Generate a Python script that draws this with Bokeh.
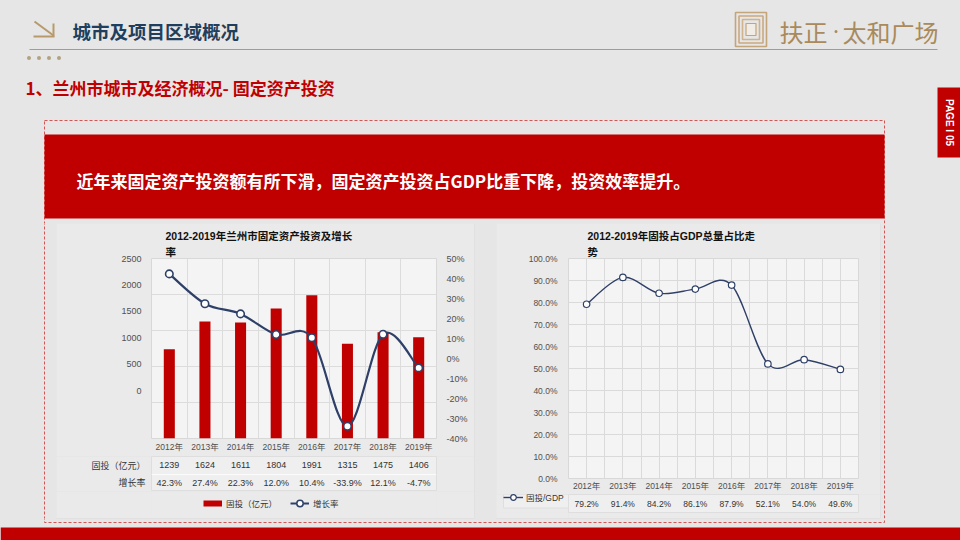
import math
from bokeh.plotting import figure
from bokeh.layouts import row, column
from bokeh.models import (Range1d, FactorRange, LinearAxis, Grid, FixedTicker,
                          PrintfTickFormatter, ColumnDataSource, Legend, LegendItem)
from bokeh.core.properties import value
from bokeh.embed import file_html
from bokeh.resources import INLINE

# ---------------- data ----------------
years = ["2012年", "2013年", "2014年", "2015年", "2016年", "2017年", "2018年", "2019年"]
investment = [1239, 1624, 1611, 1804, 1991, 1315, 1475, 1406]          # 固投（亿元）
growth = [42.3, 27.4, 22.3, 12.0, 10.4, -33.9, 12.1, -4.7]             # 增长率 %
gdp_share = [79.2, 91.4, 84.2, 86.1, 87.9, 52.1, 54.0, 49.6]           # 固投/GDP %
left_ticks = [0, 500, 1000, 1500, 2000, 2500]
pct_ticks = [-40, -30, -20, -10, 0, 10, 20, 30, 40, 50]
share_ticks = [0, 10, 20, 30, 40, 50, 60, 70, 80, 90, 100]
row_inv, row_growth, row_share = "固投（亿元）", "增长率", "固投/GDP"

BG = "#e6e6e6"
CARD = "#eaeaea"
RED = "#c00000"
GOLD = "#b8996b"
NAVY = "#2f4068"
AX = "#505050"
LAT = "Liberation Sans, Noto Sans CJK SC"
CJK = "Noto Sans CJK SC"

CY0, CY1 = 223, 518          # card band (slide px)


def smooth_segments(n, ys, t=1.0 / 6.0):
    """Bezier segments (Catmull-Rom style smoothing) through points at category centres."""
    xs = [i + 0.5 for i in range(n)]
    d = dict(x0=[], y0=[], x1=[], y1=[], cx0=[], cy0=[], cx1=[], cy1=[])
    for i in range(n - 1):
        xa, ya, xb, yb = xs[i], ys[i], xs[i + 1], ys[i + 1]
        xp, yp = (xs[i - 1], ys[i - 1]) if i > 0 else (xa, ya)
        xn, yn = (xs[i + 2], ys[i + 2]) if i + 2 < n else (xb, yb)
        d["x0"].append(xa); d["y0"].append(ya); d["x1"].append(xb); d["y1"].append(yb)
        d["cx0"].append(xa + (xb - xp) * t); d["cy0"].append(ya + (yb - yp) * t)
        d["cx1"].append(xb - (xn - xa) * t); d["cy1"].append(yb - (yn - ya) * t)
    return ColumnDataSource(d)


def tile(x0, x1, y0, y1, fill=BG, deco=True):
    f = figure(width=x1 - x0, height=y1 - y0, x_range=Range1d(x0, x1), y_range=Range1d(y1, y0),
               output_backend="svg", toolbar_location=None, min_border=0, title=None,
               x_axis_type=None, y_axis_type=None, outline_line_color=None,
               background_fill_color=fill, border_fill_color=fill)
    if deco:
        f.quad(left=[56, 496], right=[474, 880], top=[223, 223], bottom=[518, 518],
               fill_color=CARD, line_color="#dcdcdc", line_width=1)
        f.quad(left=[44], right=[884], top=[120], bottom=[522], fill_alpha=0,
               line_color="#d45555", line_width=1, line_dash="3 2")
        f.quad(left=[0], right=[960], top=[527], bottom=[540], fill_color=RED, line_color=None)
    return f


def style_axis(a, size, standoff, font=LAT, color=AX):
    a.axis_line_color = None
    a.major_tick_line_color = None
    a.minor_tick_line_color = None
    a.major_tick_out = 0
    a.major_tick_in = 0
    a.major_label_standoff = standoff
    a.major_label_text_font = font
    a.major_label_text_font_size = "%gpx" % size
    a.major_label_text_color = color


def style_title(f, text, offset):
    f.title.text = text
    f.title.align = "left"
    f.title.offset = offset
    f.title.standoff = 0
    f.title.text_font = LAT
    f.title.text_font_style = "bold"
    f.title.text_font_size = "10.5px"
    f.title.text_color = "#111111"
    f.title.text_line_height = 1.4


def make_legend(items, loc, **kw):
    opts = dict(location=loc, margin=0, label_standoff=4, label_text_font=CJK,
                label_text_font_size="8.5px", label_text_color="#333333",
                background_fill_alpha=0, border_line_alpha=0)
    opts.update(kw)
    return Legend(items=items, **opts)


# ---------------- top tile: header + banner ----------------
T = tile(0, 960, 0, CY0)
T.segment(x0=[34, 33, 53], y0=[21, 36, 23], x1=[53, 54, 53], y1=[35, 36, 36],
          line_color=GOLD, line_width=2)
T.text(x=[72], y=[30], text=["城市及项目区域概况"], text_font=value(CJK),
       text_font_style="bold", text_font_size="18.5px", text_color="#1f3f5c",
       text_baseline="middle")
T.segment(x0=[29], y0=[49], x1=[937], y1=[49], line_color=GOLD, line_width=1)
T.scatter(x=[28.5, 38.5, 48.5, 58.5], y=[57.5] * 4, size=4, color="#b3a27f", line_color=None)
T.text(x=[25], y=[87], text=["1、兰州市城市及经济概况- 固定资产投资"], text_font=value(CJK),
       text_font_style="bold", text_font_size="17px", text_color=RED, text_baseline="middle")
for k, c in enumerate(["#c4a57a", "#caa982", "#d0b28c"]):
    d = 3.5 * k
    T.quad(left=[735 + d], right=[766 - d], top=[12 + d], bottom=[46 - d],
           fill_alpha=0, line_color=c, line_width=1.6)
T.quad(left=[745.5], right=[755.5], top=[23], bottom=[35], fill_color="#f1ede6",
       line_color="#c4a57a", line_width=1.2)
T.text(x=[779, 842], y=[31, 31], text=["扶正", "太和广场"], text_font=value(CJK),
       text_font_size="24px", text_color="#a98a5c", text_baseline="middle")
T.scatter(x=[835.5], y=[31], size=3, color="#a98a5c", line_color=None)
T.quad(left=[937], right=[960], top=[87], bottom=[157], fill_color=RED, line_color=None)
T.text(x=[948.5], y=[122], text=["PAGE I 05"], angle=-math.pi / 2, text_font=value(LAT),
       text_font_style="bold", text_font_size="10px", text_color="white",
       text_align="center", text_baseline="middle")
T.quad(left=[44], right=[884], top=[134], bottom=[218], fill_color=RED, line_color=None)
T.text(x=[76], y=[180],
       text=["近年来固定资产投资额有所下滑，固定资产投资占GDP比重下降，投资效率提升。"],
       text_font=value(CJK), text_font_style="bold", text_font_size="17px",
       text_color="white", text_baseline="middle")

S1 = tile(0, 56, CY0, CY1)
S2 = tile(474, 496, CY0, CY1)
S3 = tile(880, 960, CY0, CY1)
B = tile(0, 960, CY1, 540)

# ---------------- left card: chart ----------------
LX0, LX1 = 56, 474
LF = dict(l=151, t=258, r=436, b=438)
LCH_B, LTAB_B = 456, 491
LAB_ZERO_Y = 390   # where the (offset) left-axis "0" label sits in the original
lab_start = -2500.0 * (LF["b"] - LAB_ZERO_Y) / (LAB_ZERO_Y - LF["t"])
xr_left = FactorRange(*years)

src = ColumnDataSource(dict(year=years, inv=investment, growth=growth))

L = figure(width=LX1 - LX0, height=LCH_B - CY0, x_range=xr_left, y_range=Range1d(0, 2500),
           output_backend="svg", toolbar_location=None, y_axis_type=None,
           min_border_left=LF["l"] - LX0, min_border_right=LX1 - LF["r"],
           min_border_top=LF["t"] - CY0, min_border_bottom=LCH_B - LF["b"],
           border_fill_color=CARD, background_fill_color="#f4f4f4",
           outline_line_color="#d8d8d8")
style_title(L, "2012-2019年兰州市固定资产投资及增长\n率", 165 - LF["l"])
L.extra_y_ranges = {"lab": Range1d(lab_start, 2500), "pct": Range1d(-40, 50)}
L.xgrid.visible = False
L.add_layout(Grid(dimension=1, ticker=FixedTicker(ticks=left_ticks), grid_line_color="#dcdcdc"))
L.add_layout(Grid(dimension=0, ticker=FixedTicker(ticks=list(range(len(years) + 1))),
                  grid_line_color="#dcdcdc"))
style_axis(L.xaxis[0], 8.5, 3)
la = LinearAxis(y_range_name="lab", ticker=FixedTicker(ticks=left_ticks))
style_axis(la, 9, 10)
L.add_layout(la, "left")
ra = LinearAxis(y_range_name="pct", ticker=FixedTicker(ticks=pct_ticks),
                formatter=PrintfTickFormatter(format="%d%%"))
style_axis(ra, 9, 10)
L.add_layout(ra, "right")

L.vbar(x="year", top="inv", width=0.31, source=src, fill_color=RED, line_color=None)
L.bezier(source=smooth_segments(len(years), growth), x0="x0", y0="y0", x1="x1",
         y1="y1", cx0="cx0", cy0="cy0", cx1="cx1", cy1="cy1",
         y_range_name="pct", line_color=NAVY, line_width=2.2)
L.scatter(x="year", y="growth", source=src, y_range_name="pct", size=7.5,
          fill_color="white", line_color=NAVY, line_width=1.6)

# ---------------- left card: data table ----------------
tab_src = ColumnDataSource(dict(
    year=years + years,
    row=[row_inv] * len(years) + [row_growth] * len(years),
    txt=[str(v) for v in investment] + ["%.1f%%" % g for g in growth]))

LT = figure(width=LX1 - LX0, height=LTAB_B - LCH_B, x_range=xr_left,
            y_range=FactorRange(row_growth, row_inv),
            output_backend="svg", toolbar_location=None, x_axis_location=None, title=None,
            min_border_left=LF["l"] - LX0, min_border_right=LX1 - LF["r"],
            min_border_top=0, min_border_bottom=0,
            border_fill_color=CARD, background_fill_color="#efefef",
            outline_line_color="#dedede")
LT.xgrid.visible = False
LT.ygrid.visible = False
LT.add_layout(Grid(dimension=1, ticker=FixedTicker(ticks=[1]), grid_line_color="#fbfbfb"))
style_axis(LT.yaxis[0], 9, 6, font=CJK, color="#333333")
LT.text(x="year", y="row", text="txt", source=tab_src, text_align="center",
        text_baseline="middle", text_font=value(LAT), text_font_size="9px",
        text_color="#333333")

# ---------------- left card: legend strip (keys drawn from the real series, kept off-view) ----
LG = figure(width=LX1 - LX0, height=CY1 - LTAB_B, x_range=xr_left, y_range=Range1d(-2, -1),
            output_backend="svg", toolbar_location=None, x_axis_location=None,
            y_axis_location=None, title=None,
            min_border_left=LF["l"] - LX0, min_border_right=LX1 - LF["r"],
            min_border_top=0, min_border_bottom=0, border_fill_color=CARD,
            background_fill_color=CARD, outline_line_color=None)
LG.xgrid.visible = False
LG.ygrid.visible = False
k_bar = LG.line(x="year", y="inv", source=src, line_color=RED, line_width=6)
k_line = LG.line(x="year", y="inv", source=src, line_color=NAVY, line_width=2)
k_pt = LG.scatter(x="year", y="inv", source=src, fill_color="white", line_color=NAVY,
                  line_width=1.5)
LG.add_layout(make_legend([LegendItem(label=row_inv, renderers=[k_bar]),
                           LegendItem(label=row_growth, renderers=[k_line, k_pt])],
                          (203 - 4 - LF["l"], 3), orientation="horizontal", padding=4,
                          spacing=13, glyph_width=19, glyph_height=16, label_height=16))

# ---------------- right card: chart ----------------
RX0, RX1 = 496, 880
RF = dict(l=568, t=258, r=858, b=478)
RTAB_T, RTAB_B = 494, 512
xr_right = FactorRange(*years)
src2 = ColumnDataSource(dict(year=years, share=gdp_share,
                             row=[row_share] * len(years),
                             txt=["%.1f%%" % s for s in gdp_share]))

R = figure(width=RX1 - RX0, height=RTAB_T - CY0, x_range=xr_right, y_range=Range1d(0, 100),
           output_backend="svg", toolbar_location=None,
           min_border_left=RF["l"] - RX0, min_border_right=RX1 - RF["r"],
           min_border_top=RF["t"] - CY0, min_border_bottom=RTAB_T - RF["b"],
           border_fill_color=CARD, background_fill_color="#f4f4f4",
           outline_line_color="#d8d8d8")
style_title(R, "2012-2019年固投占GDP总量占比走\n势", 587 - RF["l"])
R.xgrid.visible = False
R.ygrid.visible = False
R.add_layout(Grid(dimension=1, ticker=FixedTicker(ticks=share_ticks), grid_line_color="#dadada"))
R.add_layout(Grid(dimension=0,
                  ticker=FixedTicker(ticks=[i * 0.5 for i in range(2 * len(years) + 1)]),
                  grid_line_color="#dadada"))
style_axis(R.xaxis[0], 8.5, 2)
ry = R.yaxis[0]
ry.ticker = FixedTicker(ticks=share_ticks)
ry.formatter = PrintfTickFormatter(format="%.1f%%")
style_axis(ry, 8.5, 11)
R.bezier(source=smooth_segments(len(years), gdp_share), x0="x0", y0="y0", x1="x1",
         y1="y1", cx0="cx0", cy0="cy0", cx1="cx1", cy1="cy1",
         line_color=NAVY, line_width=1.4)
R.scatter(x="year", y="share", source=src2, size=6.5, fill_color="white",
          line_color=NAVY, line_width=1.2)

# ---------------- right card: data row (legend key + values) ----------------
RG = tile(RX0, RF["l"], RTAB_T, CY1, fill=CARD, deco=False)
RG.quad(left=[503], right=[RF["l"]], top=[RTAB_T], bottom=[RTAB_B], fill_color="#efefef",
        line_color="#dedede", line_width=1)
r_line = RG.line(x="share", y="share", source=src2, line_color=NAVY, line_width=1.4)
r_pt = RG.scatter(x="share", y="share", source=src2, fill_color="white", line_color=NAVY,
                  line_width=1.2)
RG.add_layout(make_legend([LegendItem(label=row_share, renderers=[r_line, r_pt])],
                          (5, CY1 - RTAB_B), padding=2, label_standoff=3,
                          glyph_width=20, glyph_height=14, label_height=14,
                          label_text_font=LAT))

RT = figure(width=RX1 - RF["l"], height=CY1 - RTAB_T, x_range=xr_right,
            y_range=FactorRange(row_share), output_backend="svg", toolbar_location=None,
            x_axis_location=None, y_axis_location=None, title=None,
            min_border_left=0, min_border_right=RX1 - RF["r"],
            min_border_top=0, min_border_bottom=CY1 - RTAB_B,
            border_fill_color=CARD, background_fill_color="#efefef",
            outline_line_color="#dedede")
RT.xgrid.visible = False
RT.ygrid.visible = False
RT.text(x="year", y="row", text="txt", source=src2, text_align="center",
        text_baseline="middle", text_font=value(LAT), text_font_size="8.5px",
        text_color="#333333")

layout = column(T,
                row(S1, column(L, LT, LG, spacing=0), S2,
                    column(R, row(RG, RT, spacing=0), spacing=0), S3, spacing=0,
                    styles={"background-color": BG}),
                B, spacing=0, styles={"background-color": BG})
open("out.html", "w").write(file_html(layout, INLINE))
